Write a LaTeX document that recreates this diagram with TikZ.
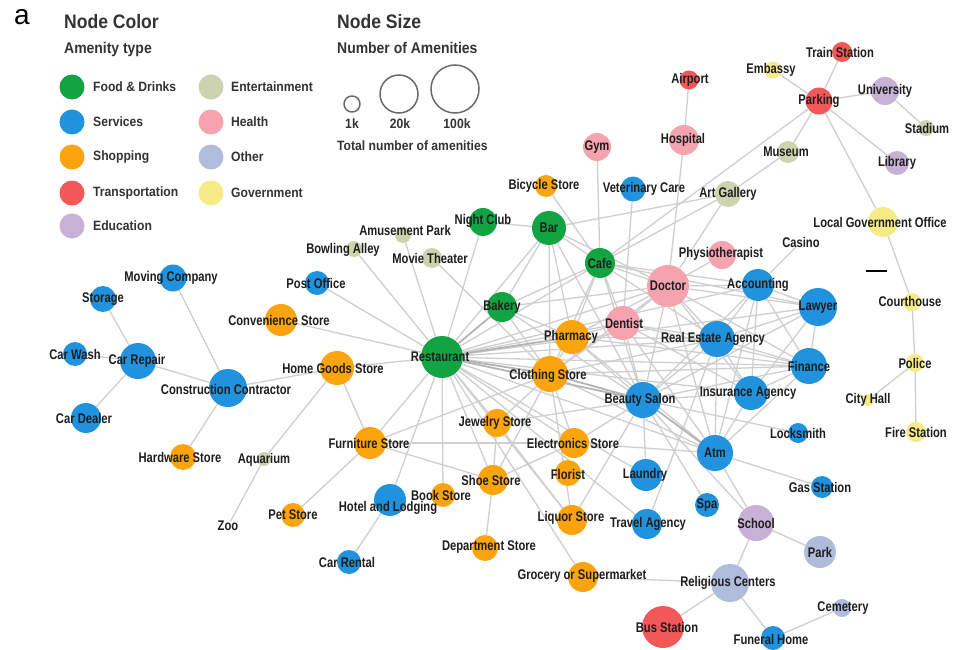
\documentclass[tikz,border=0pt]{standalone}
\usepackage{fontspec}
\setmainfont[FakeStretch=0.8]{Liberation Sans}
\newfontfamily\legfont[FakeStretch=0.9]{Liberation Sans}
\newfontfamily\plainfont{Liberation Sans}
\definecolor{food}{HTML}{12A443}
\definecolor{serv}{HTML}{2192DD}
\definecolor{shop}{HTML}{FBA40E}
\definecolor{trans}{HTML}{F35858}
\definecolor{edu}{HTML}{C8B1D6}
\definecolor{ent}{HTML}{CCD3AE}
\definecolor{health}{HTML}{F5A3AE}
\definecolor{other}{HTML}{B0BCDC}
\definecolor{gov}{HTML}{F7EB87}
\definecolor{labtext}{HTML}{1E1E1E}
\definecolor{legtext}{HTML}{333333}
\definecolor{edgec}{HTML}{CFCFCF}
\definecolor{edgesc}{HTML}{B4B4B4}
\definecolor{sizeg}{HTML}{6A6A6A}
\pgfdeclarelayer{bg}\pgfdeclarelayer{fg}\pgfsetlayers{bg,main,fg}
\tikzset{
  dot/.style={circle, inner sep=0pt, draw=none},
  lab/.style={inner sep=0pt, text=labtext, font=\fontsize{14}{16}\selectfont\bfseries},
  ed/.style={draw=edgec, line width=1.3pt},
  eds/.style={draw=edgesc, line width=1.8pt},
  legtitle/.style={anchor=west, inner sep=0pt, text=legtext, font=\legfont\fontsize{19.5}{22}\selectfont\bfseries},
  legsub/.style={anchor=west, inner sep=0pt, text=legtext, font=\legfont\fontsize{15.5}{18}\selectfont\bfseries},
  leglab/.style={anchor=west, inner sep=0pt, text=legtext, font=\legfont\fontsize{13.5}{16}\selectfont\bfseries},
  sizedot/.style={circle, inner sep=0pt, draw=sizeg, line width=1.5pt},
}
\newcommand\amen[8]{%
  \node[dot, fill=#5, minimum size={2*#4pt}] (#1) at (#2,#3) {};
  \begin{pgfonlayer}{fg}\node[lab] (#1-l) at (#6,#7) {#8};\end{pgfonlayer}}
\begin{document}
\begin{tikzpicture}[x=1pt,y=-1pt]
\useasboundingbox (0,0) rectangle (961,650);
\begin{pgfonlayer}{bg}\fill[white] (0,0) rectangle (961,650);\end{pgfonlayer}

% ---------- legend ----------
\node[inner sep=0pt, text=black, font=\plainfont\fontsize{28}{30}\selectfont] (tag) at (22,17) {a};
\node[legtitle] (nc) at (64,22) {Node Color};
\node[legsub] (at) at (64,49) {Amenity type};
\node[dot, fill=food, minimum size=25pt] (lg1) at (72,87) {};
\node[leglab] (lg1-l) at (93,87) {Food \& Drinks};
\node[dot, fill=serv, minimum size=25pt] (lg2) at (72,122) {};
\node[leglab] (lg2-l) at (93,122) {Services};
\node[dot, fill=shop, minimum size=25pt] (lg3) at (72,157) {};
\node[leglab] (lg3-l) at (93,157) {Shopping};
\node[dot, fill=trans, minimum size=25pt] (lg4) at (72,193) {};
\node[leglab] (lg4-l) at (93,193) {Transportation};
\node[dot, fill=edu, minimum size=25pt] (lg5) at (72,226) {};
\node[leglab] (lg5-l) at (93,226) {Education};
\node[dot, fill=ent, minimum size=25pt] (lg6) at (211,87) {};
\node[leglab] (lg6-l) at (231,87) {Entertainment};
\node[dot, fill=health, minimum size=25pt] (lg7) at (211,122) {};
\node[leglab] (lg7-l) at (231,122) {Health};
\node[dot, fill=other, minimum size=25pt] (lg8) at (211,157) {};
\node[leglab] (lg8-l) at (231,157) {Other};
\node[dot, fill=gov, minimum size=25pt] (lg9) at (211,193) {};
\node[leglab] (lg9-l) at (231,193) {Government};

\node[legtitle] (ns) at (337,22) {Node Size};
\node[legsub] (na) at (337,48) {Number of Amenities};
\node[sizedot, minimum size=16pt] (s1) at (352,104) {};
\node[sizedot, minimum size=38pt] (s2) at (399,94) {};
\node[sizedot, minimum size=48pt] (s3) at (455,89) {};
\node[leglab, anchor=center] (s1-l) at (352,124) {1k};
\node[leglab, anchor=center] (s2-l) at (400,124) {20k};
\node[leglab, anchor=center] (s3-l) at (457,124) {100k};
\node[leglab] (tn) at (337,146) {Total number of amenities};

% ---------- amenity nodes ----------
\amen{train}{842}{52}{10}{trans}{840}{52}{Train Station}
\amen{emb}{773}{70}{8.5}{gov}{771}{70}{Embassy}
\amen{air}{689}{80}{9.5}{trans}{690}{80}{Airport}
\amen{park}{819}{101}{13.5}{trans}{819}{101}{Parking}
\amen{univ}{885}{91}{14}{edu}{885}{91}{University}
\amen{stad}{926}{128}{8}{ent}{927}{128}{Stadium}
\amen{hosp}{684}{140}{15}{health}{683}{140}{Hospital}
\amen{mus}{788}{152}{11}{ent}{786}{152}{Museum}
\amen{lib}{897}{163}{12}{edu}{897}{163}{Library}
\amen{gym}{597}{147}{14}{health}{597}{147}{Gym}
\amen{art}{728}{194}{13}{ent}{728}{194}{Art Gallery}
\amen{vet}{633}{189}{12.5}{serv}{644}{189}{Veterinary Care}
\amen{bike}{546}{186}{11}{shop}{544}{186}{Bicycle Store}
\amen{lgo}{883}{222}{15}{gov}{880}{222}{Local Government Office}
\begin{pgfonlayer}{fg}\node[lab] (casino) at (801,242) {Casino};\end{pgfonlayer}
\amen{night}{483}{222}{14}{food}{483}{221}{Night Club}
\amen{bar}{549}{228}{17}{food}{549}{228}{Bar}
\amen{amuse}{403}{235}{8}{ent}{405}{230}{Amusement Park}
\amen{bowl}{354}{249}{8}{ent}{343}{250}{Bowling Alley}
\amen{movie}{432}{258}{10}{ent}{430}{258}{Movie Theater}
\amen{cafe}{600}{263}{15}{food}{600}{263}{Cafe}
\amen{physio}{722}{255}{14}{health}{721}{254}{Physiotherapist}
\amen{doc}{668}{286}{21}{health}{668}{286}{Doctor}
\amen{move}{173}{278}{13.5}{serv}{171}{278}{Moving Company}
\amen{post}{317}{283}{12}{serv}{316}{283}{Post Office}
\amen{acct}{758}{285}{16}{serv}{758}{285}{Accounting}
\amen{stor}{103}{299}{13}{serv}{103}{299}{Storage}
\amen{bak}{502}{307}{15}{food}{502}{307}{Bakery}
\amen{law}{818}{307}{19}{serv}{818}{307}{Lawyer}
\amen{conv}{281}{320}{16}{shop}{279}{320}{Convenience Store}
\amen{dent}{623}{323}{17}{health}{624}{323}{Dentist}
\amen{pharm}{572}{337}{17}{shop}{571}{337}{Pharmacy}
\amen{re}{717}{339}{18}{serv}{713}{339}{Real Estate Agency}
\amen{wash}{75}{354}{12}{serv}{75}{354}{Car Wash}
\amen{rest}{442}{357}{21}{food}{440}{357}{Restaurant}
\amen{carrep}{138}{361}{18}{serv}{137}{361}{Car Repair}
\amen{home}{337}{368}{17}{shop}{333}{368}{Home Goods Store}
\amen{fin}{809}{366}{18}{serv}{809}{366}{Finance}
\amen{cloth}{550}{374}{18}{shop}{548}{376}{Clothing Store}
\amen{cc}{228}{388}{19}{serv}{226}{389}{Construction Contractor}
\amen{ins}{751}{393}{17}{serv}{748}{393}{Insurance Agency}
\amen{beauty}{643}{400}{18}{serv}{640}{400}{Beauty Salon}
\amen{deal}{86}{418}{15}{serv}{84}{418}{Car Dealer}
\amen{jew}{497}{423}{14}{shop}{495}{423}{Jewelry Store}
\amen{lock}{798}{433}{10}{serv}{798}{433}{Locksmith}
\amen{furn}{370}{443}{16}{shop}{369}{443}{Furniture Store}
\amen{elec}{574}{443}{15}{shop}{573}{443}{Electronics Store}
\amen{atm}{715}{453}{18}{serv}{715}{453}{Atm}
\amen{hard}{183}{457}{13}{shop}{180}{457}{Hardware Store}
\amen{aqua}{264}{459}{7}{ent}{264}{460}{Aquarium}
\amen{flor}{568}{473}{13}{shop}{568}{474}{Florist}
\amen{laun}{646}{475}{16}{serv}{645}{475}{Laundry}
\amen{shoe}{493}{480}{15}{shop}{491}{480}{Shoe Store}
\amen{gas}{822}{487}{11}{serv}{820}{487}{Gas Station}
\amen{book}{443}{495}{12}{shop}{441}{495}{Book Store}
\amen{hotel}{390}{500}{16}{serv}{388}{508}{Hotel and Lodging}
\amen{spa}{707}{505}{12}{serv}{707}{505}{Spa}
\amen{pet}{293}{515}{12}{shop}{293}{515}{Pet Store}
\begin{pgfonlayer}{fg}\node[lab] (zoo) at (228,526) {Zoo};\end{pgfonlayer}
\amen{liq}{572}{520}{15}{shop}{571}{518}{Liquor Store}
\amen{travel}{647}{524}{15}{serv}{648}{524}{Travel Agency}
\amen{school}{756}{523}{18}{edu}{756}{523}{School}
\amen{rental}{349}{562}{12}{serv}{347}{562}{Car Rental}
\amen{dept}{485}{548}{13}{shop}{489}{547}{Department Store}
\amen{parkn}{820}{552}{16}{other}{820}{552}{Park}
\amen{groc}{583}{577}{15}{shop}{582}{576}{Grocery or Supermarket}
\amen{rel}{730}{583}{19}{other}{728}{583}{Religious Centers}
\amen{cem}{842}{608}{9}{other}{843}{608}{Cemetery}
\amen{bus}{663}{627}{21}{trans}{667}{627}{Bus Station}
\amen{fun}{773}{638}{12}{serv}{771}{639}{Funeral Home}
\amen{court}{912}{302}{9}{gov}{910}{301}{Courthouse}
\amen{police}{915}{363}{9}{gov}{915}{363}{Police}
\amen{city}{868}{400}{6}{gov}{868}{400}{City Hall}
\amen{fire}{916}{432}{10}{gov}{916}{432}{Fire Station}
\node[fill=black, inner sep=0pt, minimum width=21pt, minimum height=2.2pt] (mark) at (876,271) {};

% ---------- connectors ----------
\begin{pgfonlayer}{bg}
\foreach \a/\b in {park/train, park/emb, park/univ, univ/stad, park/lib, park/lgo, park/mus, park/cafe,
  mus/art, air/hosp, hosp/doc, gym/cafe, vet/dent, art/bar, art/cafe, art/doc, bike/cafe,
  lgo/court, court/police, police/fire, police/city, casino/acct, physio/doc,
  night/bar, night/rest, amuse/rest, bowl/rest, movie/cloth, post/rest, conv/rest, home/rest,
  home/cc, home/furn, home/aqua, aqua/zoo, cc/move, cc/carrep, cc/hard, carrep/stor, carrep/wash,
  carrep/deal, furn/rest, furn/pet, furn/shoe, furn/elec, furn/cloth, hotel/rest, hotel/rental,
  book/rest, jew/rest, jew/shoe, jew/cloth, jew/liq, shoe/rest, shoe/dept, shoe/elec, shoe/cloth,
  groc/rest, groc/rel, liq/rest, liq/beauty, elec/rest, elec/beauty, elec/cloth, elec/atm,
  rest/travel, laun/beauty, spa/beauty, travel/re, atm/school, school/parkn, school/rel, rel/bus,
  rel/fun, fun/cem, atm/gas, atm/ins, atm/rest, atm/cloth, atm/pharm, school/beauty, lock/beauty,
  rest/bar, rest/cafe, rest/dent, rest/doc, rest/re, rest/fin, rest/ins, rest/acct, rest/law, rest/laun,
  bar/bak, bar/cafe, bar/cloth, bar/pharm, bar/doc, bar/beauty,
  cafe/bak, cafe/doc, cafe/dent, cafe/pharm, cafe/re, cafe/beauty, cafe/cloth, cafe/acct, cafe/law,
  bak/pharm, bak/cloth, bak/beauty, bak/doc,
  doc/dent, doc/acct, doc/law, doc/re, doc/fin, doc/ins, doc/beauty, doc/pharm, doc/cloth, doc/atm,
  dent/pharm, dent/re, dent/beauty, dent/cloth, dent/fin, dent/atm, dent/ins,
  pharm/cloth, pharm/beauty, pharm/re, pharm/fin,
  acct/law, acct/re, acct/fin, acct/ins, acct/atm, acct/beauty,
  law/re, law/fin, law/ins, law/beauty,
  re/fin, re/ins, re/beauty, re/atm, re/cloth,
  fin/ins, fin/beauty, fin/cloth, fin/atm, ins/beauty, beauty/jew, cloth/liq}
  \draw[ed] (\a) -- (\b);
\foreach \a/\b in {rest/cloth, rest/beauty, rest/bak, rest/pharm, cloth/beauty, beauty/atm}
  \draw[eds] (\a) -- (\b);
\end{pgfonlayer}
\end{tikzpicture}
\end{document}
